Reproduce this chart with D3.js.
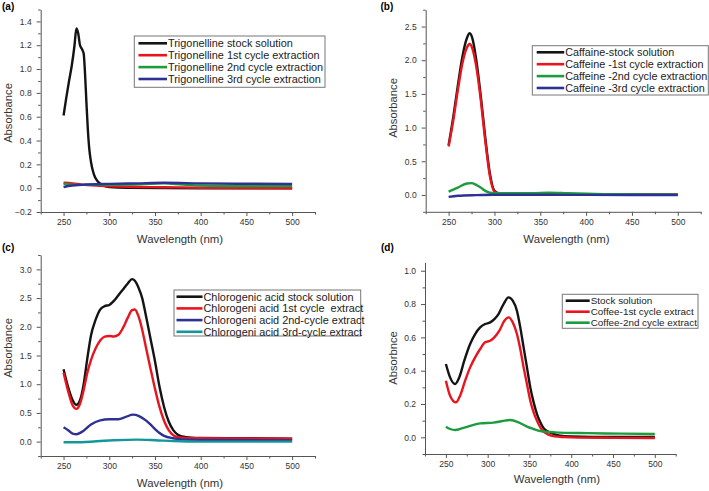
<!DOCTYPE html>
<html>
<head>
<meta charset="utf-8">
<script src="https://cdn.jsdelivr.net/npm/d3@7"></script>
<style>
  body { margin: 0; background: #fff; }
  svg { display: block; font-family: "Liberation Sans", Arial, sans-serif; }
</style>
</head>
<body>
<svg id="chart" width="709" height="491"></svg>
<script>
// ---- data (wavelength nm, absorbance) ----
const xTicks = [250, 300, 350, 400, 450, 500];

// (a) trigonelline
const aYTicks = [-0.2, 0.0, 0.2, 0.4, 0.6, 0.8, 1.0, 1.2, 1.4];
const trigStock = [[250,0.61],[253,0.76],[256,0.9],[259,1.03],[262,1.2],[264,1.34],[266,1.3],[268,1.2],[270,1.17],[272,1.13],[273.5,0.96],[275,0.72],[276.5,0.5],[278,0.34],[280,0.22],[283,0.12],[287,0.06],[292,0.03],[300,0.01],[320,0.003],[400,0.0],[500,0.0]];
const trig1st = [[250,0.045],[260,0.04],[270,0.03],[290,0.02],[320,0.012],[360,0.008],[400,0.004],[450,0.001],[500,0.0]];
const trig2nd = [[250,0.035],[260,0.03],[280,0.028],[320,0.03],[360,0.04],[380,0.03],[400,0.022],[450,0.018],[500,0.017]];
const trig3rd = [[250,0.008],[255,0.018],[270,0.028],[300,0.036],[330,0.04],[360,0.045],[400,0.04],[450,0.037],[500,0.035]];

// (b) caffeine
const bYTicks = [0.0, 0.5, 1.0, 1.5, 2.0, 2.5];
const cafStock = [[250,0.74],[255,1.15],[260,1.62],[265,2.05],[270,2.33],[273,2.4],[276,2.32],[280,2.02],[285,1.48],[290,0.85],[295,0.32],[300,0.06],[305,0.025],[320,0.015],[400,0.008],[500,0.005]];
const caf1st = [[250,0.72],[255,1.1],[260,1.55],[265,1.95],[270,2.19],[273,2.24],[276,2.17],[280,1.92],[285,1.42],[290,0.8],[295,0.28],[300,0.05],[305,0.02],[320,0.012],[400,0.006],[500,0.003]];
const caf2nd = [[250,0.05],[260,0.11],[270,0.17],[275,0.175],[280,0.15],[285,0.11],[290,0.06],[295,0.033],[300,0.026],[340,0.025],[360,0.035],[380,0.025],[420,0.012],[460,0.008],[500,0.005]];
const caf3rd = [[250,-0.028],[260,-0.012],[280,-0.002],[300,0.003],[350,0.003],[400,0.001],[500,0.0]];

// (c) chlorogenic acid
const cYTicks = [0.0, 0.5, 1.0, 1.5, 2.0, 2.5, 3.0];
const chlStock = [[250,1.26],[255,0.95],[260,0.72],[264,0.64],[268,0.72],[272,1.0],[276,1.45],[280,1.85],[285,2.12],[290,2.3],[295,2.36],[300,2.38],[305,2.45],[310,2.55],[315,2.65],[320,2.75],[325,2.83],[328,2.8],[332,2.68],[336,2.5],[340,2.2],[345,1.8],[350,1.4],[355,0.95],[360,0.6],[365,0.35],[370,0.2],[375,0.12],[380,0.09],[390,0.07],[400,0.065],[450,0.06],[500,0.05]];
const chl1st = [[250,1.2],[255,0.88],[260,0.63],[264,0.57],[268,0.66],[272,0.9],[276,1.2],[280,1.42],[285,1.62],[290,1.76],[295,1.83],[300,1.84],[305,1.83],[310,1.86],[315,1.98],[320,2.15],[325,2.29],[328,2.3],[332,2.18],[336,1.95],[340,1.65],[345,1.28],[350,0.92],[355,0.6],[360,0.36],[365,0.2],[370,0.11],[375,0.08],[380,0.07],[400,0.06],[450,0.055],[500,0.05]];
const chl2nd = [[250,0.25],[255,0.2],[260,0.14],[264,0.13],[270,0.17],[280,0.3],[290,0.37],[300,0.39],[310,0.39],[318,0.43],[326,0.47],[332,0.45],[340,0.37],[345,0.3],[350,0.22],[355,0.15],[360,0.1],[370,0.06],[380,0.04],[400,0.03],[500,0.02]];
const chl3rd = [[250,-0.01],[265,-0.01],[300,0.02],[330,0.035],[350,0.025],[370,0.01],[400,0.0],[500,0.0]];

// (d) coffee
const dYTicks = [0.0, 0.2, 0.4, 0.6, 0.8, 1.0];
const cofStock = [[250,0.44],[255,0.36],[261,0.32],[266,0.36],[272,0.46],[279,0.56],[285,0.62],[291,0.66],[297,0.68],[303,0.69],[308,0.71],[313,0.74],[319,0.8],[325,0.84],[330,0.82],[335,0.76],[339,0.66],[343,0.54],[347,0.42],[351,0.3],[355,0.21],[359,0.14],[363,0.09],[367,0.054],[372,0.035],[377,0.024],[385,0.012],[400,0.005],[450,0.002],[500,0.002]];
const cof1st = [[250,0.34],[255,0.25],[262,0.21],[267,0.25],[273,0.34],[279,0.42],[285,0.48],[291,0.53],[297,0.57],[303,0.58],[308,0.6],[314,0.64],[320,0.7],[325,0.72],[330,0.69],[335,0.62],[339,0.53],[343,0.42],[347,0.32],[351,0.22],[355,0.15],[359,0.1],[363,0.06],[367,0.034],[372,0.018],[380,0.006],[400,0.0],[450,-0.003],[500,-0.004]];
const cof2nd = [[250,0.064],[255,0.05],[261,0.044],[270,0.055],[280,0.07],[291,0.084],[307,0.088],[318,0.098],[327,0.104],[337,0.09],[347,0.064],[355,0.05],[363,0.038],[380,0.03],[420,0.025],[460,0.022],[500,0.02]];

const colBlack = "#141414", colRed = "#e8151f", colGreen = "#1c9c3c", colBlue = "#2e3192", colTeal = "#13979a";

const svg = d3.select("#chart");
const font = "'Liberation Sans', Arial, sans-serif";

function drawPanel(p) {
  const g = svg.append("g");
  const x = d3.scaleLinear().domain([225, 525]).range(p.xr);
  const y = d3.scaleLinear().domain(p.yd).range(p.yr);

  const xMinor = d3.range(225, 526, 25).filter(v => !xTicks.includes(v));
  const step = p.yTicks[1] - p.yTicks[0];
  const yMinor = [];
  for (let v = p.yTicks[0] - step / 2; v <= p.yd[1] + 1e-9; v += step) {
    if (v >= p.yd[0] - 1e-9) yMinor.push(+v.toFixed(3));
  }

  // x axis
  g.append("g")
    .attr("transform", `translate(0,${p.yr[0]})`)
    .call(d3.axisBottom(x).tickValues(xMinor).tickSize(2.5).tickSizeOuter(0).tickFormat(""))
    .call(a => a.select(".domain").remove())
    .selectAll("line").attr("stroke", "#555");
  const xa = g.append("g")
    .attr("transform", `translate(0,${p.yr[0]})`)
    .call(d3.axisBottom(x).tickValues(xTicks).tickSize(4).tickSizeOuter(0).tickPadding(3));
  xa.select(".domain").attr("stroke", "#555");
  xa.selectAll("line").attr("stroke", "#555");
  xa.selectAll("text").attr("font-size", 8.5).attr("font-family", font).attr("fill", "#333");

  // y axis
  g.append("g")
    .attr("transform", `translate(${p.xr[0]},0)`)
    .call(d3.axisLeft(y).tickValues(yMinor).tickSize(2.5).tickSizeOuter(0).tickFormat(""))
    .call(a => a.select(".domain").remove())
    .selectAll("line").attr("stroke", "#555");
  const ya = g.append("g")
    .attr("transform", `translate(${p.xr[0]},0)`)
    .call(d3.axisLeft(y).tickValues(p.yTicks).tickSize(4).tickSizeOuter(0).tickPadding(5).tickFormat(d3.format(".1f")));
  ya.select(".domain").attr("stroke", "#555");
  ya.selectAll("line").attr("stroke", "#555");
  ya.selectAll("text").attr("font-size", 8.5).attr("font-family", font).attr("fill", "#333");

  // curves
  const line = d3.line().x(d => x(d[0])).y(d => y(d[1])).curve(d3.curveMonotoneX);
  p.series.forEach(s => {
    g.append("path")
      .datum(s.data)
      .attr("d", line)
      .attr("fill", "none")
      .attr("stroke", s.color)
      .attr("stroke-width", 2.4)
      .attr("stroke-linejoin", "round");
  });

  // axis titles
  g.append("text")
    .attr("transform", `translate(${p.yTitle[0]},${p.yTitle[1]}) rotate(-90)`)
    .attr("text-anchor", "middle")
    .attr("font-size", 11.2)
    .attr("fill", "#333")
    .text(p.yLabel);
  g.append("text")
    .attr("x", p.xTitle[0]).attr("y", p.xTitle[1])
    .attr("text-anchor", "middle")
    .attr("font-size", 11.4)
    .attr("fill", "#333")
    .text("Wavelength (nm)");

  // panel label
  g.append("text")
    .attr("x", p.tag[0]).attr("y", p.tag[1])
    .attr("font-size", 10)
    .attr("font-weight", "bold")
    .text(p.tagText);

  // legend
  const L = p.legend;
  g.append("rect")
    .attr("x", L.x).attr("y", L.y).attr("width", L.w).attr("height", L.h)
    .attr("fill", "#fff").attr("stroke", "#777").attr("stroke-width", 1);
  p.series.forEach((s, i) => {
    const ry = L.row0 + i * L.dy;
    g.append("line")
      .attr("x1", L.sx).attr("x2", L.sx + L.sw)
      .attr("y1", ry).attr("y2", ry)
      .attr("stroke", s.color).attr("stroke-width", 2.6);
    g.append("text")
      .attr("x", L.sx + L.sw + 1).attr("y", ry)
      .attr("dy", "0.36em")
      .attr("font-size", L.fs)
      .attr("fill", "#222")
      .attr("xml:space", "preserve")
      .text(s.name);
  });
}

drawPanel({
  xr: [40.7, 315], yd: [-0.2, 1.5], yr: [212, 9.5], yTicks: aYTicks,
  yLabel: "Absorbance", yTitle: [11.5, 113], xTitle: [180, 243],
  tag: [2, 10], tagText: "(a)",
  series: [
    { name: "Trigonelline stock solution", data: trigStock, color: colBlack },
    { name: "Trigonelline 1st cycle extraction", data: trig1st, color: colRed },
    { name: "Trigonelline 2nd cycle extraction", data: trig2nd, color: colGreen },
    { name: "Trigonelline 3rd cycle extraction", data: trig3rd, color: colBlue }
  ],
  legend: { x: 134.3, y: 36, w: 190.7, h: 51.3, row0: 43.3, dy: 11.9, sx: 138.5, sw: 28.5, fs: 10.9 }
});

drawPanel({
  xr: [425.7, 700.7], yd: [-0.25, 2.75], yr: [211.8, 9.7], yTicks: bYTicks,
  yLabel: "Absorbance", yTitle: [396.5, 108], xTitle: [566.5, 243],
  tag: [380.5, 10], tagText: "(b)",
  series: [
    { name: "Caffaine-stock solution", data: cafStock, color: colBlack },
    { name: "Caffeine -1st cycle extraction", data: caf1st, color: colRed },
    { name: "Caffeine -2nd cycle extraction", data: caf2nd, color: colGreen },
    { name: "Caffeine -3rd cycle extraction", data: caf3rd, color: colBlue }
  ],
  legend: { x: 532.3, y: 45.7, w: 176, h: 49.3, row0: 52.3, dy: 11.9, sx: 536.7, sw: 27.5, fs: 10.8 }
});

drawPanel({
  xr: [40.7, 315], yd: [-0.25, 3.25], yr: [456, 255], yTicks: cYTicks,
  yLabel: "Absorbance", yTitle: [11.5, 348], xTitle: [180, 487],
  tag: [2, 251], tagText: "(c)",
  series: [
    { name: "Chlorogenic acid stock solution", data: chlStock, color: colBlack },
    { name: "Chlorogeni acid 1st cycle  extract", data: chl1st, color: colRed },
    { name: "Chlorogeni acid 2nd-cycle extract", data: chl2nd, color: colBlue },
    { name: "Chlorogeni acid 3rd-cycle extract", data: chl3rd, color: colTeal }
  ],
  legend: { x: 174, y: 290, w: 186.7, h: 46, row0: 296.7, dy: 11.7, sx: 176.5, sw: 26, fs: 10.9 }
});

drawPanel({
  xr: [425, 675.7], yd: [-0.1, 1.05], yr: [454, 262.4], yTicks: dYTicks,
  yLabel: "Absorbnce", yTitle: [396.5, 358], xTitle: [557, 483],
  tag: [381, 251], tagText: "(d)",
  series: [
    { name: "Stock solution", data: cofStock, color: colBlack },
    { name: "Coffee-1st cycle extract", data: cof1st, color: colRed },
    { name: "Coffee-2nd cycle extract", data: cof2nd, color: colGreen }
  ],
  legend: { x: 562.3, y: 294.3, w: 135.7, h: 34, row0: 300.7, dy: 11, sx: 565.7, sw: 24, fs: 9.9 }
});
</script>
</body>
</html>
